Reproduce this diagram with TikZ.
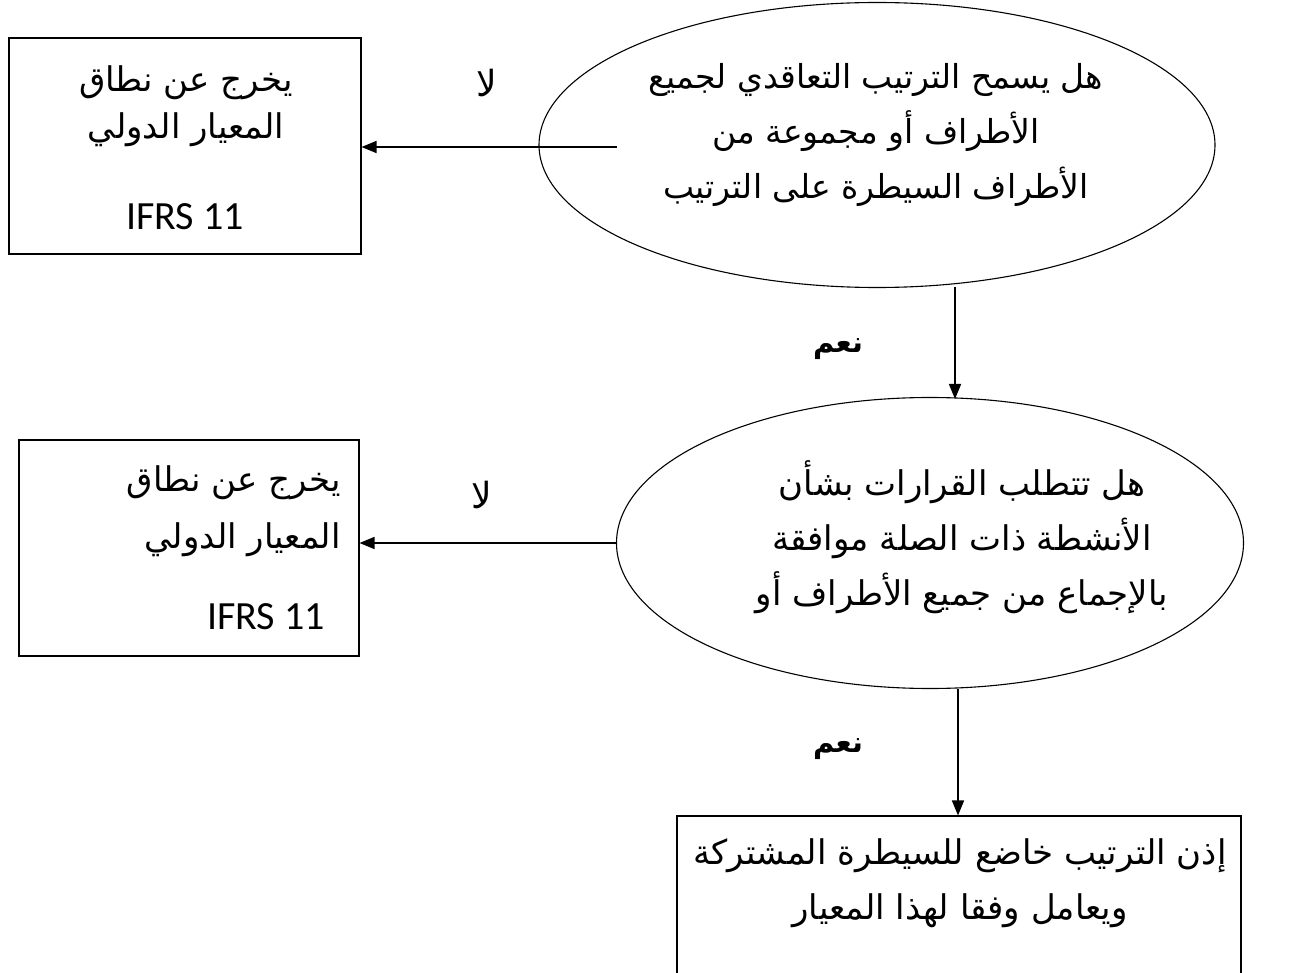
\documentclass[tikz,border=0pt]{standalone}
\usepackage{fontspec}
\usetikzlibrary{shapes.geometric,arrows.meta}
\setmainfont{Carlito}
\newfontfamily\arabicfont[Script=Arabic]{DejaVu Sans}
\TeXXeTstate=1
\newcommand{\arline}[1]{\beginR #1\endR}

\tikzset{
  frame/.style={draw=black, line width=1.1pt, rectangle, inner sep=0pt},
  oval/.style={draw=black, line width=1.1pt, ellipse, inner sep=0pt},
  artext/.style={font=\arabicfont\fontsize{34}{55}\selectfont, inner sep=0pt, align=center},
  latext/.style={font=\fontsize{40}{48}\selectfont, inner sep=0pt},
  flow/.style={line width=1.6pt, -{Triangle[length=15pt,width=12pt]}},
  answer/.style={font=\arabicfont\fontsize{36}{40}\selectfont, inner sep=0pt},
  yesanswer/.style={font=\arabicfont\bfseries\fontsize{29}{32}\selectfont, inner sep=0pt}
}

\begin{document}
\begin{tikzpicture}[x=1pt, y=-1pt]
  \clip (0,0) rectangle (1304,973);
  \fill[white] (0,0) rectangle (1304,973);

  % first question
  \node[oval, minimum width=676pt, minimum height=285pt] (q1) at (877,145) {};
  \node[artext, font=\arabicfont\fontsize{33}{55}\selectfont] (q1t) at (876,135)
    {\arline{هل يسمح الترتيب التعاقدي لجميع}\\
    \arline{الأطراف أو مجموعة من}\\ \arline{الأطراف السيطرة على الترتيب}};

  % outside scope, first
  \node[frame, minimum width=352pt, minimum height=216pt] (o1) at (185,146) {};
  \node[artext] (o1a) at (186,83) {\arline{يخرج عن نطاق}};
  \node[artext] (o1b) at (186,130) {\arline{المعيار الدولي}};
  \node[latext] (o1c) at (185,217) {IFRS 11};

  \coordinate (n1) at (617,147);
  \draw[flow] (n1) -- (n1 -| o1.east);
  \node[answer] (no1) at (487,83) {\arline{لا}};

  % yes towards second question
  \node[oval, minimum width=627pt, minimum height=291pt] (q2) at (930,543) {};
  \node[artext] (q2t) at (962,537) {\arline{هل تتطلب القرارات بشأن}\\
    \arline{الأنشطة ذات الصلة موافقة}\\ \arline{بالإجماع من جميع الأطراف أو}};
  \coordinate (y1) at (955,287);
  \draw[flow] (y1) -- (955,399);
  \node[yesanswer] (yes1) at (838,349) {\arline{نعم}};

  % outside scope, second
  \node[frame, minimum width=340pt, minimum height=216pt] (o2) at (189,548) {};
  \node[artext, anchor=east] (o2a) at (341,483) {\arline{يخرج عن نطاق}};
  \node[artext, anchor=east] (o2b) at (341,540) {\arline{المعيار الدولي}};
  \node[latext, anchor=east] (o2c) at (325,617) {IFRS 11};

  \draw[flow] (q2.west) -- (q2.west -| o2.east);
  \node[answer] (no2) at (482,495) {\arline{لا}};

  % conclusion
  \node[frame, minimum width=564pt, minimum height=190pt] (c) at (959,911) {};
  \node[artext] (ct) at (960,883) {\arline{إذن الترتيب خاضع للسيطرة المشتركة}\\
    \arline{ويعامل وفقا لهذا المعيار}};
  \coordinate (y2) at (958,689);
  \draw[flow] (y2) -- (y2 |- c.north);
  \node[yesanswer] (yes2) at (838,749) {\arline{نعم}};
\end{tikzpicture}
\end{document}
